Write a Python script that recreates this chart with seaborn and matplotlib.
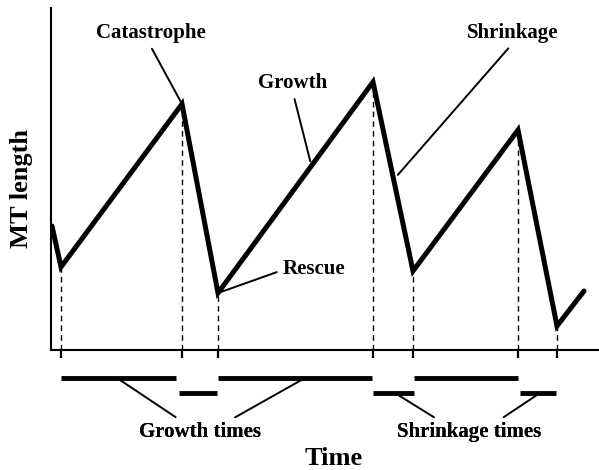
import numpy as np
import pandas as pd
import matplotlib.pyplot as plt
import seaborn as sns

# MT length over time (arbitrary units)
time = [1, 10, 131, 167, 322, 362, 467, 506, 533]
length = [124, 83, 246, 57, 268, 79, 220, 24, 59]

# rescue / catastrophe points -> dashed drop line and tick
turn_time = time[1:-1]
turn_length = length[1:-1]

# phase durations shown as bars under the time axis
growth_start = [10, 167, 363]
growth_end = [125, 321, 467]
shrink_start = [128, 322, 469]
shrink_end = [166, 363, 505]

df = pd.DataFrame({'time': time, 'length': length})

# %%

sns.set_style('ticks')
plt.rcParams['font.family'] = ['Liberation Serif', 'DejaVu Serif']
plt.rcParams['font.weight'] = 'bold'
plt.rcParams['text.color'] = 'black'
plt.rcParams['axes.labelcolor'] = 'black'

fig = plt.figure(figsize=(5.99, 4.70), dpi=100)
ax = fig.add_axes([51 / 599, 120 / 470, 548 / 599, 342 / 470])

sns.lineplot(data=df, x='time', y='length', color='black', lw=3.6,
             solid_joinstyle='miter', ax=ax)
ax.vlines(turn_time, 0, turn_length, color='black', lw=1,
          linestyles=(0, (4, 3)))

bar_growth_y, bar_shrink_y = -28, -43
g = ax.hlines([bar_growth_y] * 3, growth_start, growth_end, color='black', lw=3.5)
s = ax.hlines([bar_shrink_y] * 3, shrink_start, shrink_end, color='black', lw=3.5)
g.set_clip_on(False)
s.set_clip_on(False)

ax.set_xlim(0, 548)
ax.set_ylim(0, 342)
sns.despine(ax=ax)
for sp in ['left', 'bottom']:
    ax.spines[sp].set_linewidth(1.5)
    ax.spines[sp].set_color('black')
ax.set_xticks(turn_time)
ax.set_xticklabels([])
ax.set_yticks([])
ax.tick_params(axis='x', which='major', bottom=True, direction='out',
               length=6, width=1.6, color='black')

ax.set_xlabel('Time', fontsize=19, fontweight='bold', va='center')
ax.xaxis.set_label_coords(0.515, -0.316)
ax.set_ylabel('MT length', fontsize=19, fontweight='bold', va='center')
ax.yaxis.set_label_coords(-0.053, 0.471)

lead = dict(arrowstyle='-', color='black', lw=1.4)
txt = dict(fontsize=15, fontweight='bold', ha='center', va='center',
           color='black', annotation_clip=False)

ax.annotate('Catastrophe', xy=(131, 246), xytext=(100, 317),
            arrowprops={**lead, 'relpos': (0.48, 0.0)}, **txt)
ax.annotate('Growth', xy=(260, 186), xytext=(242, 267),
            arrowprops={**lead, 'relpos': (0.5, 0.0)}, **txt)
ax.annotate('Shrinkage', xy=(345, 173), xytext=(462, 317),
            arrowprops={**lead, 'relpos': (0.5, 0.0)}, **txt)
ax.annotate('Rescue', xy=(167, 57), xytext=(263, 81),
            arrowprops={**lead, 'relpos': (0.0, 0.45), 'shrinkB': 0}, **txt)

ax.annotate('Growth times', xy=(66, bar_growth_y), xytext=(149, -82),
            arrowprops={**lead, 'relpos': (0.36, 1.0)}, **txt)
ax.annotate('Growth times', xy=(254, bar_growth_y), xytext=(149, -82),
            arrowprops={**lead, 'relpos': (0.72, 1.0)}, **txt)
ax.annotate('Shrinkage times', xy=(344, bar_shrink_y), xytext=(418, -82),
            arrowprops={**lead, 'relpos': (0.31, 1.0)}, **txt)
ax.annotate('Shrinkage times', xy=(489, bar_shrink_y), xytext=(418, -82),
            arrowprops={**lead, 'relpos': (0.69, 1.0)}, **txt)

fig.savefig('out.png', dpi=100)
